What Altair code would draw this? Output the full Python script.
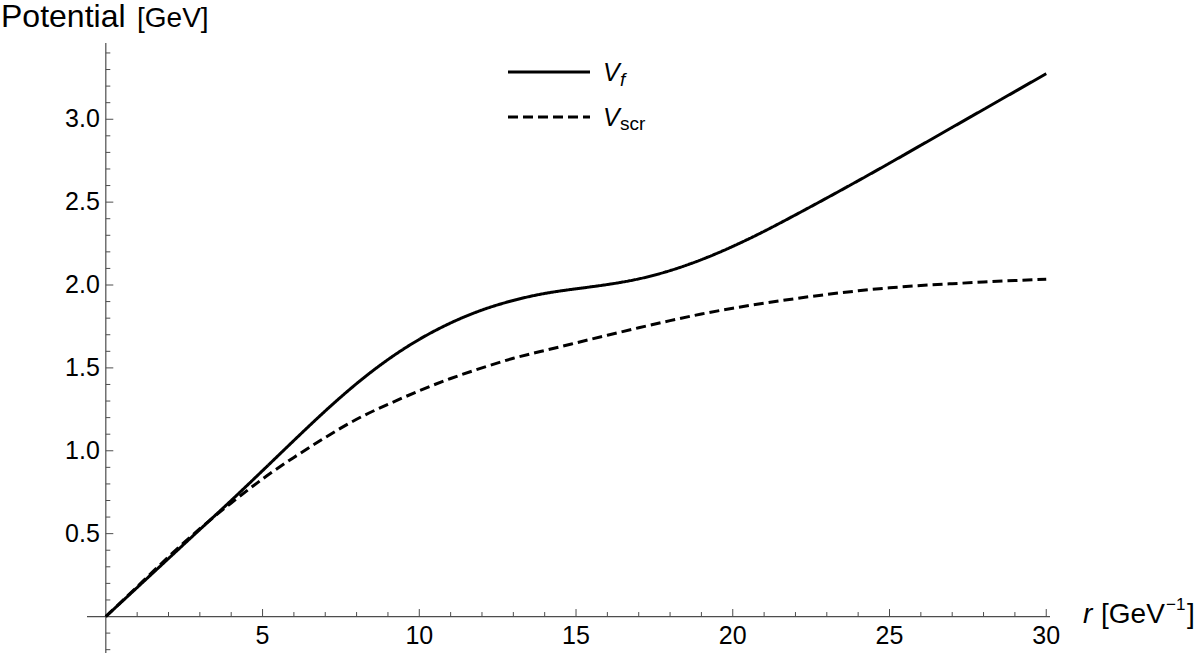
import altair as alt
import pandas as pd

# ---- data ----
r_vals = [0, 1, 2, 3, 4, 5, 6, 7, 8, 9, 10, 11, 12, 13, 14, 15,
          16, 17, 18, 19, 20, 21, 22, 23, 24, 25, 26, 27, 28, 29, 30]
v_f = [0.0, 0.175, 0.35, 0.525, 0.70, 0.88, 1.062, 1.240, 1.405, 1.550, 1.672,
       1.771, 1.849, 1.907, 1.949, 1.977, 2.003, 2.037, 2.087, 2.153, 2.233,
       2.324, 2.423, 2.525, 2.629, 2.735, 2.843, 2.951, 3.059, 3.167, 3.275]
v_scr = [0.0, 0.18, 0.36, 0.53, 0.685, 0.83, 0.96, 1.08, 1.19, 1.28, 1.362,
         1.436, 1.50, 1.558, 1.605, 1.651, 1.697, 1.742, 1.785, 1.825, 1.86,
         1.89, 1.918, 1.943, 1.965, 1.983, 1.997, 2.008, 2.018, 2.027, 2.035]
series_names = ["Vf", "Vscr"]

x_major = [5, 10, 15, 20, 25, 30]
x_major_labels = ["5", "10", "15", "20", "25", "30"]
x_minor = [1, 2, 3, 4, 6, 7, 8, 9, 11, 12, 13, 14, 16, 17, 18, 19,
           21, 22, 23, 24, 26, 27, 28, 29]
y_major = [0.5, 1.0, 1.5, 2.0, 2.5, 3.0]
y_major_labels = ["0.5", "1.0", "1.5", "2.0", "2.5", "3.0"]
y_minor = [-0.2, -0.1, 0.1, 0.2, 0.3, 0.4, 0.6, 0.7, 0.8, 0.9, 1.1, 1.2, 1.3,
           1.4, 1.6, 1.7, 1.8, 1.9, 2.1, 2.2, 2.3, 2.4, 2.6, 2.7, 2.8, 2.9,
           3.1, 3.2, 3.3, 3.4]

x_domain = [-0.6, 30.12]
y_domain = [-0.22, 3.46]

FONT = "Liberation Sans"
AXIS_COLOR = "#4d4d4d"
W, H = 963, 610
LW = 3

curves = pd.DataFrame({
    "x": r_vals * 2,
    "y": v_f + v_scr,
    "series": [series_names[0]] * len(r_vals) + [series_names[1]] * len(r_vals),
})

xs = alt.Scale(domain=x_domain, nice=False, zero=False)
ys = alt.Scale(domain=y_domain, nice=False, zero=False)


def X(field="x"):
    return alt.X(f"{field}:Q", scale=xs, axis=None)


def Y(field="y"):
    return alt.Y(f"{field}:Q", scale=ys, axis=None)


lines = alt.Chart(curves).mark_line(
    interpolate="natural", strokeWidth=LW, color="black"
).encode(
    x=X(), y=Y(),
    strokeDash=alt.StrokeDash(
        "series:N",
        scale=alt.Scale(domain=series_names, range=[[1, 0], [10, 5]]),
        legend=None,
    ),
)

origin = pd.DataFrame({"x": [0.0], "y": [0.0]})

x_axis_line = alt.Chart(origin).mark_rule(color=AXIS_COLOR, strokeWidth=1.2).encode(
    x=alt.value(0), x2=alt.value(W), y=Y()
)
y_axis_line = alt.Chart(origin).mark_rule(color=AXIS_COLOR, strokeWidth=1.2).encode(
    y=alt.value(0), y2=alt.value(H), x=X()
)

xmin_df = pd.DataFrame({"x": x_minor, "y": [0.0] * len(x_minor)})
xmaj_df = pd.DataFrame({"x": x_major, "y": [0.0] * len(x_major), "label": x_major_labels})
ymin_df = pd.DataFrame({"y": y_minor, "x": [0.0] * len(y_minor)})
ymaj_df = pd.DataFrame({"y": y_major, "x": [0.0] * len(y_major), "label": y_major_labels})

x_minor_ticks = alt.Chart(xmin_df).mark_rule(
    color=AXIS_COLOR, strokeWidth=1, y2Offset=-4.5
).encode(x=X(), y=Y(), y2="y:Q")
x_major_ticks = alt.Chart(xmaj_df).mark_rule(
    color=AXIS_COLOR, strokeWidth=1, y2Offset=-7.5
).encode(x=X(), y=Y(), y2="y:Q")
y_minor_ticks = alt.Chart(ymin_df).mark_rule(
    color=AXIS_COLOR, strokeWidth=1, x2Offset=4.5
).encode(y=Y(), x=X(), x2="x:Q")
y_major_ticks = alt.Chart(ymaj_df).mark_rule(
    color=AXIS_COLOR, strokeWidth=1, x2Offset=7.5
).encode(y=Y(), x=X(), x2="x:Q")

x_labels = alt.Chart(xmaj_df).mark_text(
    font=FONT, fontSize=25, color="black", align="center", baseline="alphabetic", dy=27
).encode(x=X(), y=Y(), text="label:N")
y_labels = alt.Chart(ymaj_df).mark_text(
    font=FONT, fontSize=25, color="black", align="right", baseline="middle", dx=-6
).encode(y=Y(), x=X(), text="label:N")


def txt(s, x, y, size, style="normal"):
    return alt.Chart(pd.DataFrame({"t": [s]})).mark_text(
        font=FONT, fontSize=size, fontStyle=style, color="black",
        align="left", baseline="alphabetic",
    ).encode(x=alt.value(x), y=alt.value(y), text="t:N")


layers = [
    x_axis_line, y_axis_line, x_minor_ticks, x_major_ticks, y_minor_ticks,
    y_major_ticks, x_labels, y_labels, lines,
    # axis titles
    txt("Potential", -86, -16, 32), txt("[GeV]", 50, -16, 28),
    txt("r", 996, 580, 28, "italic"), txt("[GeV", 1014, 580, 28),
    txt("\u22121", 1079, 567, 17), txt("]", 1100, 580, 28),
    # legend
    alt.Chart(origin).mark_rule(color="black", strokeWidth=LW).encode(
        x=alt.value(421), x2=alt.value(503), y=alt.value(29)),
    alt.Chart(origin).mark_rule(color="black", strokeWidth=LW, strokeDash=[10, 5]).encode(
        x=alt.value(421), x2=alt.value(503), y=alt.value(74)),
    txt("V", 516, 38, 25, "italic"), txt("f", 533, 43, 19, "italic"),
    txt("V", 516, 83, 25, "italic"), txt("scr", 533, 87, 19),
]

chart = alt.layer(*layers).properties(
    width=W, height=H,
    autosize=alt.AutoSizeParams(type="none"),
    padding={"left": 87, "top": 43, "right": 150, "bottom": 0},
    background="white",
).configure_view(stroke=None)

chart.save("out.html", embed_options={"renderer": "svg", "actions": False})
